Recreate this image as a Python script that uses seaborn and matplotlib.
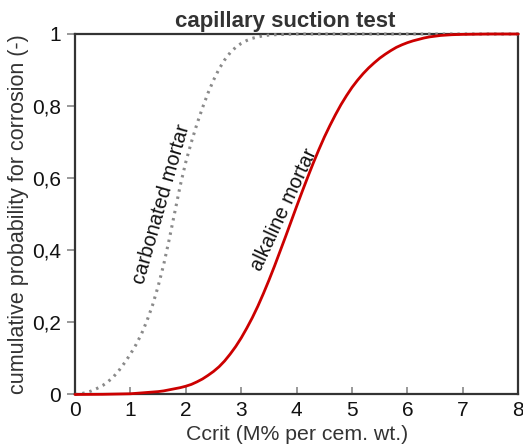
import matplotlib
matplotlib.use("Agg")
import matplotlib.pyplot as plt
import seaborn as sns
import pandas as pd

# ---- data ----
carb_x = [0.0, 0.1, 0.2, 0.3, 0.4, 0.5, 0.6, 0.7, 0.8, 0.9, 1.0, 1.1, 1.2, 1.3, 1.4,
          1.5, 1.6, 1.7, 1.8, 1.9, 2.0, 2.1, 2.2, 2.3, 2.4, 2.5, 2.6, 2.7, 2.8, 2.9,
          3.0, 3.1, 3.2, 3.3, 3.4, 3.5, 3.6, 3.8, 4.0, 5.0, 6.0, 7.0, 8.0]
carb_y = [0.000, 0.002, 0.005, 0.010, 0.017, 0.025, 0.036, 0.050, 0.068, 0.089, 0.112,
          0.138, 0.168, 0.205, 0.248, 0.300, 0.360, 0.430, 0.505, 0.580, 0.645, 0.700,
          0.750, 0.795, 0.836, 0.872, 0.903, 0.928, 0.948, 0.963, 0.974, 0.982, 0.988,
          0.992, 0.995, 0.997, 0.998, 0.999, 1.0, 1.0, 1.0, 1.0, 1.0]

alk_x = [0.0, 0.5, 1.0, 1.5, 1.6, 1.7, 1.8, 1.9, 2.0, 2.1, 2.2, 2.3, 2.4, 2.5, 2.6, 2.7,
         2.8, 2.9, 3.0, 3.1, 3.2, 3.3, 3.4, 3.5, 3.6, 3.7, 3.8, 3.9, 4.0, 4.1, 4.2, 4.3,
         4.4, 4.5, 4.6, 4.7, 4.8, 4.9, 5.0, 5.1, 5.2, 5.3, 5.4, 5.5, 5.6, 5.7, 5.8, 5.9,
         6.0, 6.1, 6.2, 6.3, 6.4, 6.5, 6.6, 6.8, 7.0, 7.5, 8.0]
alk_y = [0.0, 0.0005, 0.002, 0.008, 0.010, 0.013, 0.016, 0.019, 0.023, 0.028, 0.035,
         0.043, 0.053, 0.064, 0.077, 0.093, 0.112, 0.133, 0.157, 0.184, 0.213, 0.245,
         0.280, 0.317, 0.356, 0.397, 0.438, 0.480, 0.522, 0.563, 0.603, 0.642, 0.679,
         0.714, 0.746, 0.776, 0.804, 0.829, 0.852, 0.872, 0.890, 0.906, 0.920, 0.933,
         0.944, 0.954, 0.963, 0.970, 0.976, 0.981, 0.985, 0.989, 0.992, 0.994, 0.996,
         0.998, 0.999, 1.0, 1.0]

x_ticks = [0, 1, 2, 3, 4, 5, 6, 7, 8]
y_ticks = [0, 0.2, 0.4, 0.6, 0.8, 1.0]
y_tick_labels = ["0", "0,2", "0,4", "0,6", "0,8", "1"]

title = "capillary suction test"
x_label = "Ccrit (M% per cem. wt.)"
y_label = "cumulative probability for corrosion (-)"
carb_label = "carbonated mortar"
alk_label = "alkaline mortar"

# ---- styling ----
sns.set_theme(style="white")
plt.rcParams["font.family"] = ["Liberation Sans", "DejaVu Sans"]

fig = plt.figure(figsize=(5.23, 4.45), dpi=100)
ax = fig.add_axes([0.1434, 0.1135, 0.991 - 0.1434, 0.9236 - 0.1135])

df_c = pd.DataFrame({"x": carb_x, "y": carb_y})
df_a = pd.DataFrame({"x": alk_x, "y": alk_y})

sns.lineplot(data=df_c, x="x", y="y", ax=ax, color="#8a8a8a", linewidth=2.2,
             linestyle=(0, (0.8, 1.6)), clip_on=False, zorder=3)
sns.lineplot(data=df_a, x="x", y="y", ax=ax, color="#cc0000", linewidth=2.0,
             clip_on=False, zorder=4)

ax.set_xlim(0, 8)
ax.set_ylim(0, 1)
ax.set_xticks(x_ticks)
ax.set_xticklabels([str(t) for t in x_ticks])
ax.set_yticks(y_ticks)
ax.set_yticklabels(y_tick_labels)

for s in ax.spines.values():
    s.set_visible(True)
    s.set_color("#333333")
    s.set_linewidth(1.6)

ax.tick_params(axis="x", direction="in", length=5, width=1.2, color="#888888",
               labelsize=15, labelcolor="#111111", pad=5, bottom=True)
ax.tick_params(axis="y", direction="out", length=6, width=1.2, color="#888888",
               labelsize=15, labelcolor="#111111", pad=4, left=True)

ax.set_xlabel(x_label, fontsize=15.3, color="#333333", labelpad=3)
ax.set_ylabel(y_label, fontsize=15.5, color="#333333", labelpad=2)
ax.set_title(title, fontsize=16, fontweight="bold", color="#333333", pad=5, x=0.474)

ax.text(1.56, 0.527, carb_label, rotation=74, fontsize=14.5, color="#111111",
        ha="center", va="center", rotation_mode="anchor")
ax.text(3.78, 0.512, alk_label, rotation=65, fontsize=14.5, color="#111111",
        ha="center", va="center", rotation_mode="anchor")

fig.savefig("out.png", dpi=100)
